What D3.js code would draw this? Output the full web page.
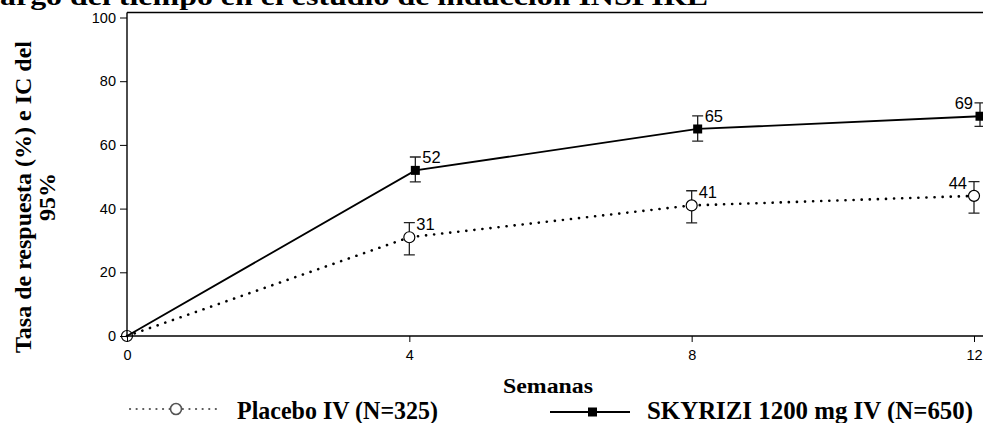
<!DOCTYPE html>
<html><head><meta charset="utf-8">
<script src="https://cdn.jsdelivr.net/npm/d3@7/dist/d3.min.js"></script>
<style>body{margin:0;background:#fff}svg{display:block}</style>
</head><body><svg id="c" width="983" height="423"></svg>
<script>
const weeks = [0, 4, 8, 12];
const placebo = [0, 31, 41, 44];
const placeboLo = [null, 25.5, 35.5, 38.6];
const placeboHi = [null, 35.6, 45.6, 48.5];
const skyrizi = [0, 52, 65, 69];
const skyriziLo = [null, 48.4, 61.2, 65.8];
const skyriziHi = [null, 56.2, 69.1, 73.2];
const yTicks = [0, 20, 40, 60, 80, 100];
const xTicks = [0, 4, 8, 12];
const legendLabels = ["Placebo IV (N=325)", "SKYRIZI 1200 mg IV (N=650)"];

const svg = d3.select("#c");
const x = d3.scaleLinear().domain([0, 12]).range([127, 974]);
const y = d3.scaleLinear().domain([0, 100]).range([336, 17.5]);
const dodge = 6;
const serif = "'Liberation Serif','Times New Roman',serif";
const sans = "'Liberation Sans',Arial,sans-serif";

// title (cut off at top in the reference)
svg.append("text").attr("x", 0).attr("y", 5).attr("font-family", serif)
  .attr("font-weight", "bold").attr("font-size", 26)
  .attr("textLength", 708).attr("lengthAdjust", "spacingAndGlyphs")
  .text("argo del tiempo en el estudio de inducción INSPIRE");

// top frame line
svg.append("line").attr("x1", 127).attr("x2", 983).attr("y1", 12.5).attr("y2", 12.5)
  .attr("stroke", "#000").attr("stroke-width", 1.4);

// y axis
const ya = svg.append("g").attr("transform", "translate(127,0)")
  .call(d3.axisLeft(y).tickValues(yTicks).tickSize(7).tickPadding(4));
ya.select(".domain").attr("d", `M0,${y(0)}V12.5`).attr("stroke-width", 1.4);
ya.selectAll("text").attr("font-family", sans).attr("font-size", 14.5).attr("fill", "#000");

// x axis
const xa = svg.append("g").attr("transform", `translate(0,${y(0)})`)
  .call(d3.axisBottom(x).tickValues(xTicks).tickSize(6).tickPadding(8));
xa.select(".domain").attr("d", "M127,0H983").attr("stroke-width", 1.4);
xa.selectAll("text").attr("font-family", sans).attr("font-size", 14.5).attr("fill", "#000");

// axis titles
const yl = svg.append("text").attr("transform", "translate(31,197) rotate(-90)")
  .attr("text-anchor", "middle").attr("font-family", serif).attr("font-weight", "bold")
  .attr("font-size", 24);
yl.append("tspan").attr("x", 0).attr("dy", 0).text("Tasa de respuesta (%) e IC del");
yl.append("tspan").attr("x", 0).attr("dy", 24).text("95%");
svg.append("text").attr("x", 548).attr("y", 393).attr("text-anchor", "middle")
  .attr("font-family", serif).attr("font-weight", "bold").attr("font-size", 20)
  .attr("textLength", 90).attr("lengthAdjust", "spacingAndGlyphs").text("Semanas");

function px(i, off) { return x(weeks[i]) + (i === 0 ? 0 : off); }

function series(vals, lo, hi, off, dash) {
  const line = d3.line().x((d, i) => px(i, off)).y(d => y(d));
  svg.append("path").datum(vals).attr("d", line).attr("fill", "none")
    .attr("stroke", "#000").attr("stroke-width", dash ? 2.6 : 1.8)
    .attr("stroke-dasharray", dash ? "0.1,8" : null).attr("stroke-linecap", dash ? "round" : "butt");
  const g = svg.append("g");
  vals.forEach((v, i) => {
    if (lo[i] == null) return;
    const cx = px(i, off);
    g.append("path").attr("d", `M${cx},${y(lo[i])}V${y(hi[i])}M${cx-5.5},${y(lo[i])}H${cx+5.5}M${cx-5.5},${y(hi[i])}H${cx+5.5}`)
      .attr("stroke", "#222").attr("stroke-width", 1.3).attr("fill", "none");
  });
}
series(placebo, placeboLo, placeboHi, 0, true);
series(skyrizi, skyriziLo, skyriziHi, dodge, false);

// markers
placebo.forEach((v, i) => {
  svg.append("circle").attr("cx", px(i, 0)).attr("cy", y(v)).attr("r", 5.5)
    .attr("fill", i === 0 ? "none" : "#fff").attr("stroke", "#000").attr("stroke-width", 1.2);
});
skyrizi.forEach((v, i) => {
  if (i === 0) return;
  svg.append("rect").attr("x", px(i, dodge) - 4.5).attr("y", y(v) - 4.5)
    .attr("width", 9).attr("height", 9).attr("fill", "#000");
});

// value labels
function labels(vals, off) {
  vals.forEach((v, i) => {
    if (i === 0) return;
    const last = i === vals.length - 1;
    svg.append("text").attr("x", px(i, off) + (last ? -7 : 7)).attr("y", y(v) - 7)
      .attr("text-anchor", last ? "end" : "start").attr("font-family", sans)
      .attr("font-size", 16.5).text(v);
  });
}
labels(placebo, 0);
labels(skyrizi, dodge);

// legend
const lg = svg.append("g");
lg.append("line").attr("x1", 130).attr("x2", 222).attr("y1", 409).attr("y2", 409)
  .attr("stroke", "#555").attr("stroke-width", 2.2).attr("stroke-dasharray", "0.1,6.5").attr("stroke-linecap", "round");
lg.append("circle").attr("cx", 176).attr("cy", 409).attr("r", 5.5).attr("fill", "#fff")
  .attr("stroke", "#555").attr("stroke-width", 1.6);
lg.append("text").attr("x", 237).attr("y", 419).attr("font-family", serif).attr("font-weight", "bold")
  .attr("font-size", 25).attr("textLength", 201).attr("lengthAdjust", "spacingAndGlyphs").text(legendLabels[0]);
lg.append("line").attr("x1", 550).attr("x2", 630).attr("y1", 412).attr("y2", 412)
  .attr("stroke", "#000").attr("stroke-width", 2);
lg.append("rect").attr("x", 588).attr("y", 407.5).attr("width", 9).attr("height", 9).attr("fill", "#000");
lg.append("text").attr("x", 647).attr("y", 419).attr("font-family", serif).attr("font-weight", "bold")
  .attr("font-size", 25).attr("textLength", 326).attr("lengthAdjust", "spacingAndGlyphs").text(legendLabels[1]);
</script></body></html>
